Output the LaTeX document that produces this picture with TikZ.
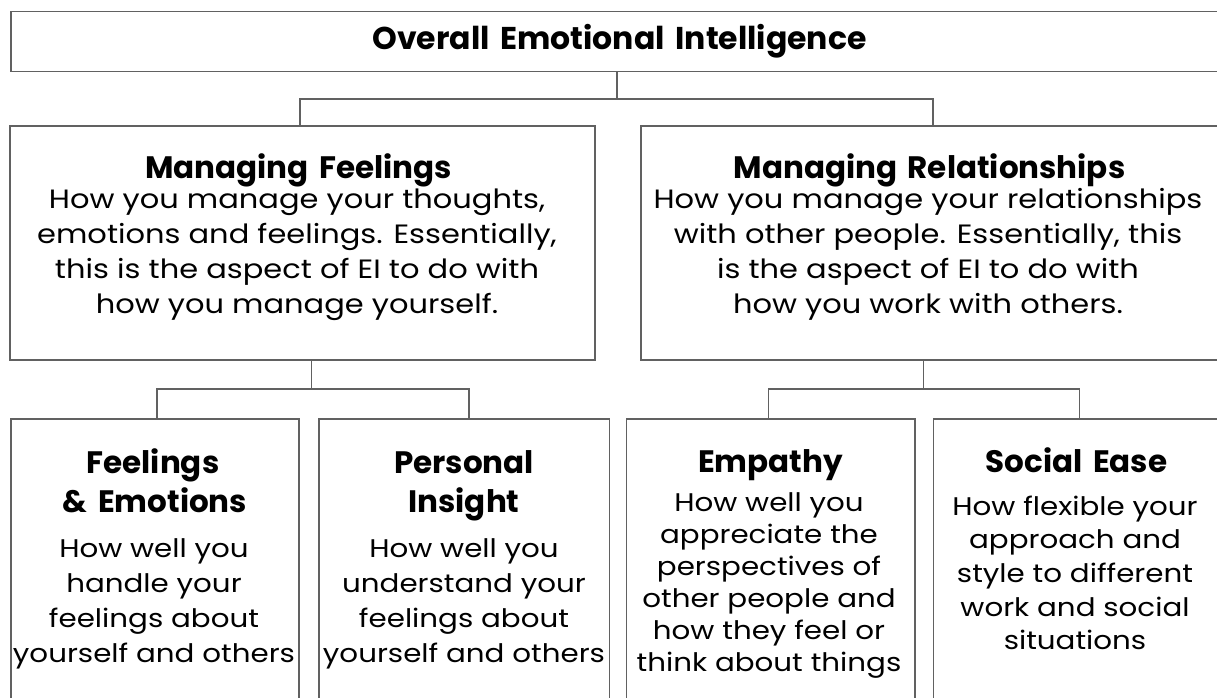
\documentclass[tikz,border=0pt]{standalone}
\usepackage{fontspec}
\setmainfont{Poppins}[WordSpace=1.6]
\newfontfamily\bodyfont{Poppins}[FakeStretch=1.15]
\begin{document}
\begin{tikzpicture}[x=1pt,y=-1pt,
  box/.style={draw=black!62,line width=1.6pt,rectangle,inner sep=0pt},
  conn/.style={draw=black!62,line width=1.5pt},
  ttl/.style={font=\fontsize{31}{36}\selectfont\bfseries,inner sep=0pt,anchor=base},
  bod/.style={font=\bodyfont\fontsize{26.5}{32}\selectfont,inner sep=0pt,anchor=base},
  sbod/.style={font=\bodyfont\fontsize{25.5}{32}\selectfont,inner sep=0pt,anchor=base}]
\useasboundingbox (0,0) rectangle (1217,698);
\clip (0,0) rectangle (1217,698);
% boxes
\node[box,minimum width=1215pt,minimum height=60pt] (top) at (618.5,41.5) {};
\node[box,minimum width=585pt,minimum height=234pt] (mf) at (302.5,243) {};
\node[box,minimum width=585pt,minimum height=234pt] (mr) at (933.5,243) {};
\node[box,minimum width=288.5pt,minimum height=320pt] (fe) at (155,579) {};
\node[box,minimum width=290.5pt,minimum height=320pt] (pi) at (464.25,579) {};
\node[box,minimum width=288.5pt,minimum height=320pt] (em) at (770.85,579) {};
\node[box,minimum width=290pt,minimum height=320pt] (se) at (1078.3,579) {};
% connector junctions
\coordinate (j1) at (617,99);
\coordinate (j2) at (311.5,389);
\coordinate (j3) at (923.5,389);
\draw[conn] (top.south -| j1) -- (j1);
\draw[conn] (mf.north -| 300,0) |- (j1) -| (mr.north -| 933,0);
\draw[conn] (mf.south -| j2) -- (j2);
\draw[conn] (fe.north -| 157,0) |- (j2) -| (pi.north -| 469,0);
\draw[conn] (mr.south -| j3) -- (j3);
\draw[conn] (em.north -| 768.5,0) |- (j3) -| (se.north -| 1079.5,0);
% titles
\node[ttl,font=\fontsize{31.5}{36}\selectfont\bfseries] (ttop) at (619.5,50) {Overall Emotional Intelligence};
\node[ttl] (tmf) at (298.5,178) {Managing Feelings};
\node[ttl] (tmr) at (929.5,178) {Managing Relationships};
\node[ttl] (tfe1) at (153,473) {Feelings};
\node[ttl] (tfe2) at (155,512) {\& Emotions};
\node[ttl] (tpi1) at (464,473) {Personal};
\node[ttl] (tpi2) at (464,512) {Insight};
\node[ttl] (tem) at (770.5,472) {Empathy};
\node[ttl] (tse) at (1076.5,472) {Social Ease};
% bodies
\foreach \t [count=\i from 0] in {{How you manage your thoughts,},{emotions and feelings. Essentially,},{this is the aspect of EI to do with},{how you manage yourself.}}
  \node[bod] (bmf\i) at (297,208+35*\i) {\t};
\foreach \t [count=\i from 0] in {{How you manage your relationships},{with other people. Essentially, this},{is the aspect of EI to do with},{how you work with others.}}
  \node[bod] (bmr\i) at (928,208+35*\i) {\t};
\foreach \t [count=\i from 0] in {{How well you},{handle your},{feelings about},{yourself and others}}
  \node[sbod] (bfe\i) at (154,557+35*\i) {\t};
\foreach \t [count=\i from 0] in {{How well you},{understand your},{feelings about},{yourself and others}}
  \node[sbod] (bpi\i) at (464,557+35*\i) {\t};
\foreach \t [count=\i from 0] in {{How well you},{appreciate the},{perspectives of},{other people and},{how they feel or},{think about things}}
  \node[sbod] (bem\i) at (769,511+32*\i) {\t};
\foreach \t [count=\i from 0] in {{How flexible your},{approach and},{style to different},{work and social},{situations}}
  \node[sbod] (bse\i) at (1075,515+33.7*\i) {\t};
\end{tikzpicture}
\end{document}
